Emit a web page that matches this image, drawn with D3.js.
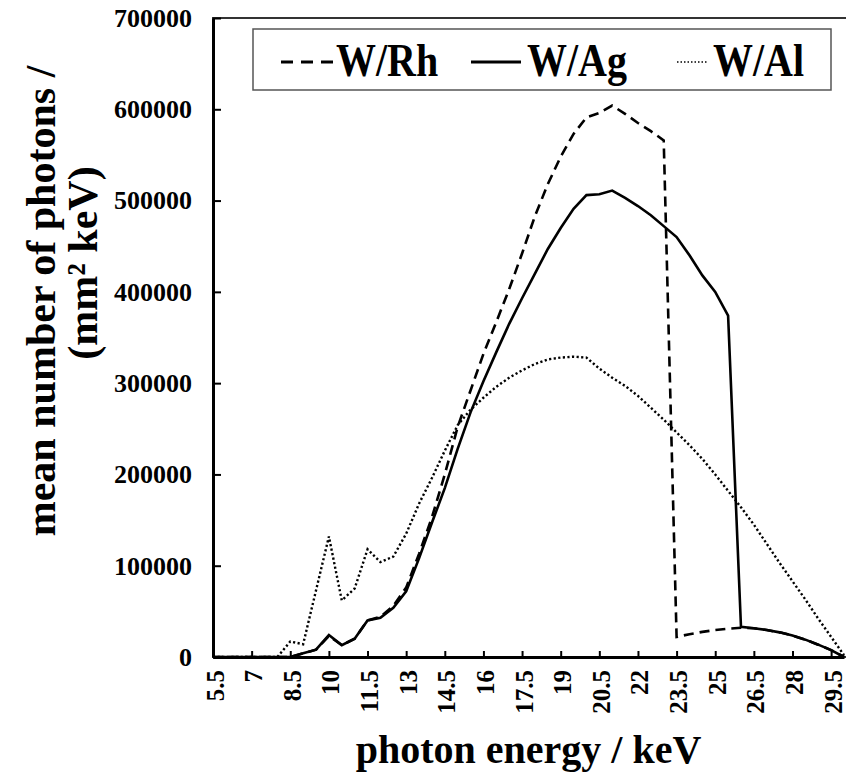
<!DOCTYPE html>
<html>
<head>
<meta charset="utf-8">
<script src="https://cdn.jsdelivr.net/npm/d3@7"></script>
<style>
  body { margin: 0; background: #fff; }
  text { font-family: "Liberation Serif", "Times New Roman", serif; font-weight: bold; fill: #000; }
</style>
</head>
<body>
<svg width="846" height="776"></svg>
<script>
// photon energy (keV), one point every 0.5 keV
const energies = [5.5,6,6.5,7,7.5,8,8.5,9,9.5,10,10.5,11,11.5,12,12.5,13,13.5,14,14.5,15,15.5,16,16.5,17,17.5,18,18.5,19,19.5,20,20.5,21,21.5,22,22.5,23,23.5,24,24.5,25,25.5,26,26.5,27,27.5,28,28.5,29,29.5,30];

const wRh = [0,0,0,0,0,0,0,4000,8000,23000,13000,20000,40000,44000,56000,76000,113000,153000,200000,252000,292000,332000,367000,403000,442000,483000,518000,548000,573000,591000,596000,604000,595000,585000,576000,566000,22000,25000,27500,29500,31000,32000,31500,29500,27000,23500,19000,13500,7500,0];
const wAg = [0,0,0,0,0,0,0,4000,8000,24000,13000,20000,40000,43000,54000,72000,108000,147000,185000,228000,268000,302000,334000,365000,393000,420000,447000,470000,491000,506000,507000,511000,503000,494000,484000,472000,460000,440000,418000,400000,374000,33000,31500,29500,27000,23500,19000,13500,7500,0];
const wAl = [0,0,0,0,0,0,17000,14000,73000,132000,62000,75000,118000,104000,110000,135000,168000,196000,226000,254000,271000,284000,296000,306000,314000,321000,326000,328000,329000,328000,316000,306000,297000,286000,273000,260000,246000,232000,217000,200000,182000,164000,145000,124000,103000,83000,63000,42000,22000,2000];

const seriesNames = ["W/Rh", "W/Ag", "W/Al"];
const xTicks = [5.5,7,8.5,10,11.5,13,14.5,16,17.5,19,20.5,22,23.5,25,26.5,28,29.5];
const yTicks = [0,100000,200000,300000,400000,500000,600000,700000];

const plot = {left: 213, right: 844, top: 18, bottom: 657};
const dashes = ["10,6", null, "2.2,2.4"];

const svg = d3.select("svg");
const x = d3.scaleLinear([5.5, 30], [plot.left, plot.right]);
const y = d3.scaleLinear([0, 700000], [plot.bottom, plot.top]);

// plot area border (right edge falls outside the picture)
svg.append("rect")
  .attr("x", plot.left).attr("y", plot.top)
  .attr("width", 700).attr("height", plot.bottom - plot.top)
  .attr("fill", "none").attr("stroke", "#333").attr("stroke-width", 2);

const series = [wRh, wAg, wAl];
const line = d3.line().x((d, i) => x(energies[i])).y(d => y(d));

svg.append("g").selectAll("path")
  .data(series)
  .join("path")
    .attr("d", line)
    .attr("fill", "none")
    .attr("stroke", "#000")
    .attr("stroke-width", (d, i) => i == 2 ? 2.4 : 2.6)
    .attr("stroke-dasharray", (d, i) => dashes[i]);

// axes
const xAxis = svg.append("g")
  .attr("transform", `translate(0,${plot.bottom})`)
  .call(d3.axisBottom(x).tickValues(xTicks).tickSizeInner(-6).tickSizeOuter(0).tickFormat(d => d));
xAxis.select(".domain").attr("stroke-width", 3);
xAxis.selectAll(".tick line").attr("stroke-width", 2);
xAxis.selectAll("text")
  .attr("transform", "rotate(-90)")
  .attr("text-anchor", "end")
  .attr("x", -13).attr("y", 1).attr("dy", "0.36em")
  .attr("font-size", 25).attr("font-family", null);

const yAxis = svg.append("g")
  .attr("transform", `translate(${plot.left},0)`)
  .call(d3.axisLeft(y).tickValues(yTicks).tickSizeInner(-8).tickSizeOuter(0).tickPadding(21).tickFormat(d => d));
yAxis.select(".domain").attr("stroke-width", 3);
yAxis.selectAll(".tick line").attr("stroke-width", 2);
yAxis.selectAll("text").attr("font-size", 26).attr("font-family", null);

// axis titles
svg.append("text")
  .attr("x", (plot.left + plot.right) / 2).attr("y", 763)
  .attr("text-anchor", "middle").attr("font-size", 40)
  .text("photon energy / keV");

svg.append("text")
  .attr("transform", "translate(55,301) rotate(-90)")
  .attr("text-anchor", "middle").attr("font-size", 42)
  .text("mean number of photons /");
svg.append("text")
  .attr("transform", "translate(97,263) rotate(-90)")
  .attr("text-anchor", "middle").attr("font-size", 42)
  .text("(mm\u00B2 keV)");

// legend
const legend = svg.append("g");
legend.append("rect")
  .attr("x", 253).attr("y", 29).attr("width", 578).attr("height", 61)
  .attr("fill", "#fff").attr("stroke", "#555").attr("stroke-width", 1.5);

const legendItems = [
  {x1: 281, x2: 333, tx: 336, dash: "12,8", w: 3},
  {x1: 471, x2: 521, tx: 527, dash: null, w: 3},
  {x1: 677, x2: 708, tx: 713, dash: "1.5,2", w: 1.6}
];
legendItems.forEach((it, i) => {
  legend.append("line")
    .attr("x1", it.x1).attr("x2", it.x2).attr("y1", 62).attr("y2", 62)
    .attr("stroke", "#000").attr("stroke-width", it.w)
    .attr("stroke-dasharray", it.dash);
  legend.append("text")
    .attr("transform", `translate(${it.tx},76) scale(1,1.15)`)
    .attr("font-size", 40)
    .text(seriesNames[i]);
});
</script>
</body>
</html>
